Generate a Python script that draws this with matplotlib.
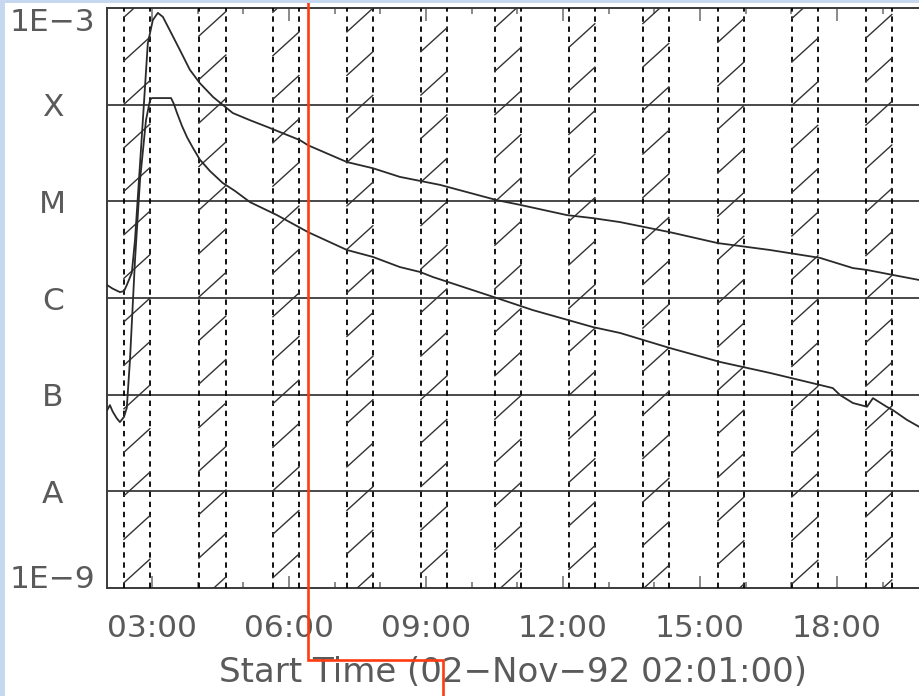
import matplotlib
matplotlib.use("Agg")
import matplotlib.pyplot as plt
import matplotlib.transforms as mtransforms
from matplotlib.ticker import FuncFormatter, MultipleLocator, NullLocator, FixedLocator
from matplotlib.patches import Rectangle

# ---- data (time in decimal hours UT, 02-Nov-92) ----
long_t = [2.02, 2.14, 2.30, 2.39, 2.45, 2.56, 2.63, 2.76, 2.91, 3.02, 3.13, 3.24, 3.39,
          3.61, 3.83, 4.05, 4.34, 4.77, 5.15, 5.52, 6.24, 6.42, 7.27, 7.84, 8.43, 9.31,
          10.55, 11.06, 12.09, 12.66, 13.25, 14.34, 15.39, 16.53, 17.63, 18.35, 18.66,
          19.23, 19.82]
long_flux = [1.36e-6, 1.25e-6, 1.15e-6, 1.18e-6, 1.36e-6, 1.82e-6, 4.0e-6, 3.4e-5, 4.3e-4,
             7.5e-4, 8.9e-4, 8.1e-4, 5.9e-4, 3.7e-4, 2.3e-4, 1.67e-4, 1.2e-4, 8.2e-5,
             6.9e-5, 5.9e-5, 4.3e-5, 3.8e-5, 2.55e-5, 2.2e-5, 1.79e-5, 1.48e-5, 1.03e-5,
             9.2e-6, 7.2e-6, 6.7e-6, 6.1e-6, 4.8e-6, 3.7e-6, 3.14e-6, 2.6e-6, 2.04e-6,
             1.95e-6, 1.73e-6, 1.53e-6]

short_t = [2.02, 2.08, 2.14, 2.23, 2.30, 2.39, 2.45, 2.52, 2.63, 2.74, 2.87, 2.96, 3.00,
           3.42, 3.48, 3.55, 3.66, 3.77, 3.90, 4.05, 4.27, 4.55, 4.82, 5.15, 5.74, 6.42,
           7.27, 7.84, 8.43, 8.87, 9.15, 10.55, 11.34, 12.66, 13.25, 14.34, 15.44, 16.53,
           17.63, 17.91, 18.07, 18.35, 18.66, 18.79, 19.09, 19.23, 19.53, 19.82]
short_flux = [6.9e-8, 7.8e-8, 6.7e-8, 5.7e-8, 5.2e-8, 5.9e-8, 7.3e-8, 2.3e-7, 2.47e-6,
              1.66e-5, 6.9e-5, 1.12e-4, 1.17e-4, 1.17e-4, 1.02e-4, 8.2e-5, 6.0e-5, 4.6e-5,
              3.56e-5, 2.7e-5, 2.06e-5, 1.55e-5, 1.28e-5, 9.8e-6, 7.2e-6, 4.8e-6, 3.14e-6,
              2.66e-6, 2.09e-6, 1.86e-6, 1.65e-6, 1.0e-6, 7.5e-7, 5.0e-7, 4.35e-7, 3.04e-7,
              2.18e-7, 1.68e-7, 1.26e-7, 1.17e-7, 9.9e-8, 8.2e-8, 7.5e-8, 9.2e-8, 7.5e-8,
              6.9e-8, 5.5e-8, 4.6e-8]

# hatched (night / SAA) intervals
night_start = [2.387, 4.029, 5.649, 7.270, 8.890, 10.510, 12.131, 13.751, 15.393, 17.014, 18.634]
night_end = [2.956, 4.620, 6.219, 7.839, 9.459, 11.080, 12.700, 14.320, 15.963, 17.583, 19.203]

class_levels = [1e-9, 1e-8, 1e-7, 1e-6, 1e-5, 1e-4, 1e-3]
class_labels = ["1E\u22129", "A", "B", "C", "M", "X", "1E\u22123"]

x_start, x_end = 2.0167, 19.82
marker_times = [6.416, 9.372]

# ---- figure ----
W, H = 920, 696
fig = plt.figure(figsize=(W / 100, H / 100), dpi=100)
fig.patch.set_facecolor("white")
ax = fig.add_axes([107 / W, 1 - 588 / H, 1 - 107 / W, 580 / H])

ax.set_yscale("log")
ax.set_ylim(1e-9, 1e-3)
ax.set_xlim(x_start, x_end)

ink = "#2a2a2a"
txt = "#5a5a5a"

# class level lines
for lv in class_levels[1:-1]:
    ax.axhline(lv, color="#3a3a3a", lw=1.3, zorder=2)

# hatched intervals: dashed borders + diagonal hatch
trans_b = mtransforms.blended_transform_factory(ax.transData, ax.transAxes)
slope_ax = 1.2756            # axes-fraction rise per axes-fraction run
spacing = 0.075
phase = 0.0574
span = x_end - x_start
for s, e in zip(night_start, night_end):
    for xv in (s, e):
        ax.axvline(xv, color="black", lw=1.3, ls=(0, (3, 2.6)), zorder=3)
    f0 = (s - x_start) / span
    f1 = (e - x_start) / span
    k = -40
    while True:
        a = phase + k * spacing
        y0 = a + slope_ax * f0
        y1 = a + slope_ax * f1
        if y0 > 1.05:
            break
        if y1 > -0.05:
            ax.plot([s, e], [y0, y1], transform=trans_b, color="#333333", lw=1.0, zorder=3)
        k += 1

# flux curves
ax.plot(long_t, long_flux, color=ink, lw=1.3, zorder=4)
ax.plot(short_t, short_flux, color=ink, lw=1.3, zorder=4)

# axes styling
for side in ("left", "bottom", "top"):
    ax.spines[side].set_color("#3a3a3a")
    ax.spines[side].set_linewidth(1.4)
ax.spines["right"].set_visible(False)

ax.xaxis.set_major_locator(MultipleLocator(3))
ax.xaxis.set_minor_locator(MultipleLocator(1))
ax.xaxis.set_major_formatter(FuncFormatter(lambda v, p: "%02d:%02d" % (int(v), round((v - int(v)) * 60))))
ax.tick_params(axis="x", which="major", direction="in", length=9, width=1.2, color="#777777",
               top=True, labelsize=22.5, labelcolor=txt, pad=19)
ax.tick_params(axis="x", which="minor", direction="in", length=4, width=1.2, color="#777777", top=True)

ax.yaxis.set_major_locator(FixedLocator(class_levels))
ax.yaxis.set_minor_locator(NullLocator())
ax.set_yticklabels(class_labels)
ax.tick_params(axis="y", which="major", length=0, labelsize=22.5, labelcolor=txt, pad=39)
ylabs = ax.get_yticklabels()
for lab in ylabs:
    lab.set_horizontalalignment("center")
ylabs[0].set_verticalalignment("baseline")
ylabs[-1].set_verticalalignment("top")

ax.set_xlabel("Start Time (02\u2212Nov\u221292 02:01:00)", fontsize=24.5, color=txt, labelpad=9)

# red marker bracket (data x, figure y)
trans_f = mtransforms.blended_transform_factory(ax.transData, fig.transFigure)
y_br = 1 - 660 / H
ax.plot([marker_times[0], marker_times[0], marker_times[1], marker_times[1]],
        [1.0, y_br, y_br, 0.0], transform=trans_f, color="#FF3B12", lw=1.9,
        clip_on=False, zorder=10, solid_joinstyle="miter")

# light blue frame
fig.patches.append(Rectangle((0, 0), 5 / W, 1, transform=fig.transFigure,
                             facecolor="#C6D7F0", edgecolor="none", zorder=20))
fig.patches.append(Rectangle((0, 1 - 3 / H), 1, 3 / H, transform=fig.transFigure,
                             facecolor="#C6D7F0", edgecolor="none", zorder=20))

fig.savefig("out.png", dpi=100, facecolor="white")
